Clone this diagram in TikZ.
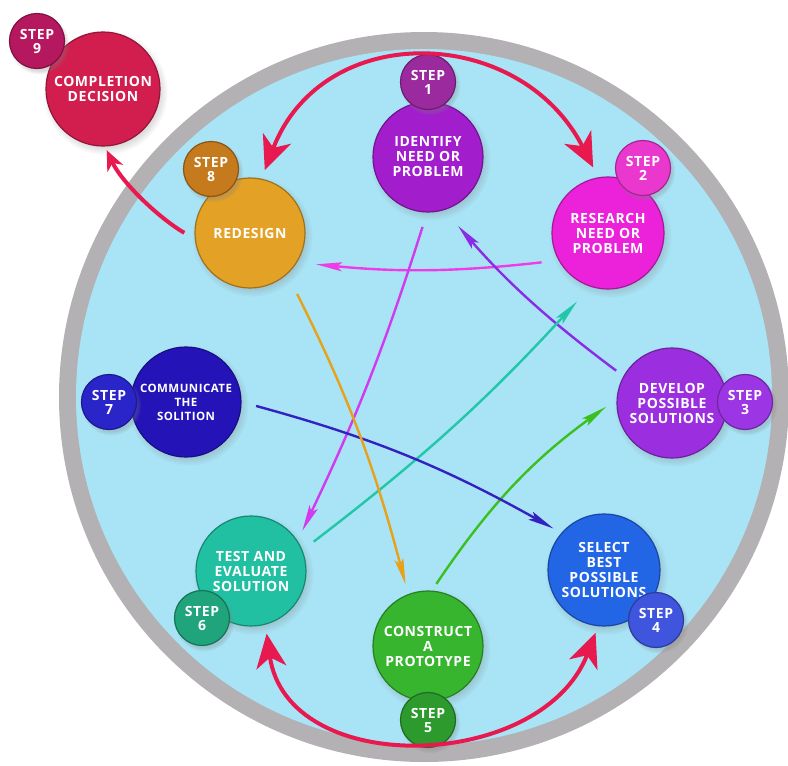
\documentclass[tikz,border=0pt]{standalone}
\usepackage{fontspec}
\setsansfont{Open Sans}[LetterSpace=4]
\usetikzlibrary{arrows.meta,shadows}

\definecolor{ringgray}{HTML}{B3B1B3}
\definecolor{skyblue}{HTML}{A8E4F6}
\definecolor{arcred}{HTML}{E8194F}
\definecolor{identc}{HTML}{A21DCB}
\definecolor{identstep}{HTML}{9A2A9E}
\definecolor{researchc}{HTML}{EB22DA}
\definecolor{researchstep}{HTML}{EA38CF}
\definecolor{developc}{HTML}{9B2FE0}
\definecolor{developstep}{HTML}{9C36E4}
\definecolor{selectc}{HTML}{2266E6}
\definecolor{selectstep}{HTML}{3F55DD}
\definecolor{constructc}{HTML}{37B52F}
\definecolor{constructstep}{HTML}{2C9A2C}
\definecolor{testc}{HTML}{22C0A2}
\definecolor{teststep}{HTML}{1FA47C}
\definecolor{commc}{HTML}{2414B8}
\definecolor{commstep}{HTML}{2A25C8}
\definecolor{redesignc}{HTML}{E3A126}
\definecolor{redesignstep}{HTML}{C57A1E}
\definecolor{complc}{HTML}{D21E4E}
\definecolor{complstep}{HTML}{B5185E}
\definecolor{magline}{HTML}{F03CE6}
\definecolor{purpline}{HTML}{8A2BE8}
\definecolor{violine}{HTML}{D13AEE}
\definecolor{tealline}{HTML}{22C6A8}
\definecolor{greenline}{HTML}{3CC020}
\definecolor{blueline}{HTML}{3422C0}
\definecolor{orangeline}{HTML}{E8A11A}

\tikzset{
  bubble/.style={circle, fill=#1, draw=#1!70!black, line width=1.2pt, text=white,
    font=\sffamily\bfseries\fontsize{14}{15}\selectfont, align=center, inner sep=0pt,
    minimum size=110pt, circular drop shadow={shadow xshift=2pt, shadow yshift=-3pt, opacity=.3}},
  badge/.style={bubble=#1, minimum size=55pt, font=\sffamily\bfseries\fontsize{14}{14}\selectfont},
  flow/.style={line width=2.4pt, -{Stealth[length=26pt,width=9pt,inset=5pt]}},
  loop/.style={arcred, line width=4pt, {Stealth[length=34pt,width=30pt,inset=10pt]}-{Stealth[length=34pt,width=30pt,inset=10pt]}}
}

\begin{document}
\begin{tikzpicture}[x=1pt,y=-1pt]
\useasboundingbox (0,0) rectangle (788,766);
\fill[ringgray] (424,397) circle[radius=365pt];
\fill[skyblue] (424,397) circle[radius=348pt];

\node[bubble=identc] (identify) at (428,157) {IDENTIFY\\NEED OR\\PROBLEM};
\node[bubble=researchc, minimum size=112pt] (research) at (608,233) {RESEARCH\\NEED OR\\PROBLEM};
\node[bubble=developc] (develop) at (672,403) {DEVELOP\\POSSIBLE\\SOLUTIONS};
\node[bubble=selectc, minimum size=112pt] (select) at (604,570) {SELECT\\BEST\\POSSIBLE\\SOLUTIONS};
\node[bubble=constructc] (construct) at (428,646) {CONSTRUCT\\A\\PROTOTYPE};
\node[bubble=testc] (test) at (251,571) {TEST AND\\EVALUATE\\SOLUTION};
\node[bubble=commc, font=\sffamily\bfseries\fontsize{11.5}{14}\selectfont] (communicate) at (186,402) {COMMUNICATE\\THE\\SOLITION};
\node[bubble=redesignc] (redesign) at (250,233) {REDESIGN};
\node[bubble=complc, minimum size=114pt] (completion) at (103,89) {COMPLETION\\DECISION};

\node[badge=identstep] (s1) at (428,82) {STEP\\1};
\node[badge=researchstep] (s2) at (643,168) {STEP\\2};
\node[badge=developstep] (s3) at (745,402) {STEP\\3};
\node[badge=selectstep] (s4) at (656,620) {STEP\\4};
\node[badge=constructstep] (s5) at (428,720) {STEP\\5};
\node[badge=teststep] (s6) at (202,618) {STEP\\6};
\node[badge=commstep] (s7) at (109,402) {STEP\\7};
\node[badge=redesignstep] (s8) at (211,169) {STEP\\8};
\node[badge=complstep] (s9) at (37,41) {STEP\\9};

\path[flow]
(research.209) edge[color=magline, bend left=6, shorten <=17pt, shorten >=19pt] (redesign.-32)
(develop.151) edge[color=purpline, bend left=6, shorten <=9pt, shorten >=21pt] (identify.-73)
(identify.-91) edge[color=violine, bend left=4, shorten <=15pt, shorten >=11pt] (test.33)
(test.22) edge[color=tealline, bend right=5, shorten <=14pt, shorten >=20pt] (research.-108)
(construct.86) edge[color=greenline, bend left=10, shorten <=8pt, shorten >=13pt] (develop.176)
(communicate.0) edge[color=blueline, bend left=7, shorten <=15pt, shorten >=9pt] (select.139)
(redesign.-48) edge[color=orangeline, bend left=6, shorten <=22pt, shorten >=10pt] (construct.111);

\path[loop]
(redesign.78) edge[out=69, in=117, looseness=1.3, shorten <=9pt, shorten >=11pt] (research.100)
(test.-75) edge[out=-82, in=-111, looseness=1.2, shorten <=9pt, shorten >=7pt] (select.-96);
\draw[arcred, line width=4pt, -{Stealth[length=20pt,width=17pt,inset=6pt]}, shorten <=12pt, shorten >=4pt]
(redesign.186) to[out=150, in=-65, looseness=0.8] (completion.-88);
\end{tikzpicture}
\end{document}
